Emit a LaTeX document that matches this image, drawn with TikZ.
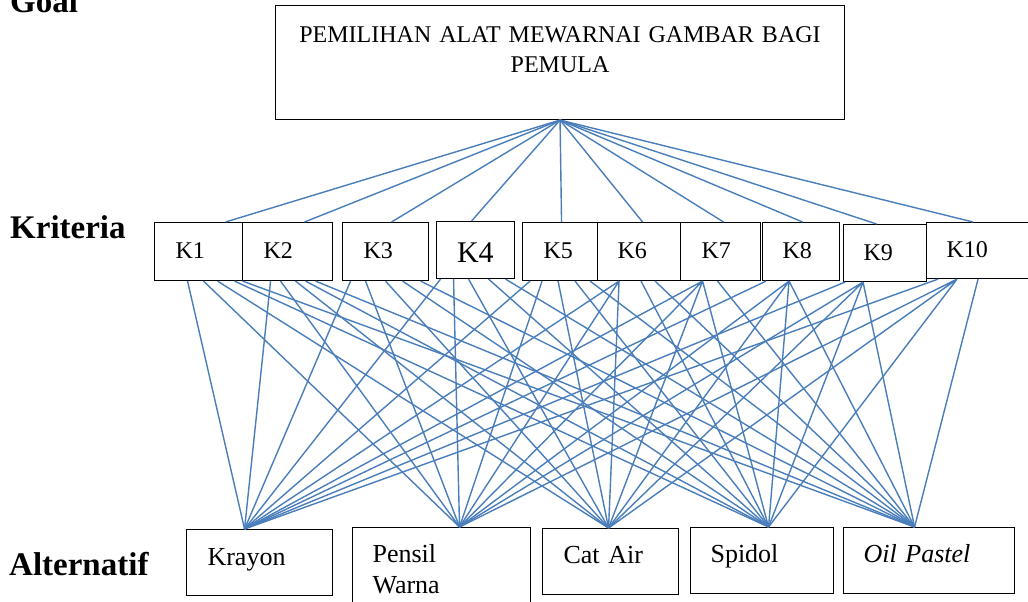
\documentclass[tikz,border=0pt]{standalone}
\usepackage{fontspec}
\setmainfont{Liberation Serif}
\usepackage{xcolor}
\usetikzlibrary{positioning}
\definecolor{biru}{HTML}{4A7EBB}

\begin{document}
\begin{tikzpicture}[x=1pt, y=-1pt,
    kotak/.style={draw=black, line width=1.1pt, anchor=north west, inner ysep=0pt, align=left, font=\fontsize{24}{30}\selectfont},
    alt/.style={kotak, font=\fontsize{26}{31}\selectfont},
    garis/.style={draw=biru, line width=1.4pt},
    judul/.style={anchor=base west, inner sep=0pt, font=\bfseries\fontsize{33}{36}\selectfont}]
    \useasboundingbox (0,0) rectangle (1028,602);

    % tingkat
    \node[judul] (lgoal) at (10,13) {Goal};
    \node[judul] (lkrit) at (10,238) {Kriteria};
    \node[judul] (lalt) at (9,575) {Alternatif};

    % goal
    \node[kotak, align=center, text width=540pt, inner xsep=14.5pt, text height=37pt, text depth=77pt] (goal) at (275,5) {PEMILIHAN ALAT MEWARNAI GAMBAR BAGI\\PEMULA};

    % kriteria
    \node[kotak, text width=46pt, inner xsep=21pt, text height=36pt, text depth=22pt] (k1) at (154,222) {K1};
    \node[kotak, text width=48pt, inner xsep=21pt, text height=36pt, text depth=22pt] (k2) at (242,222) {K2};
    \node[kotak, text width=44pt, inner xsep=21pt, text height=36pt, text depth=22pt] (k3) at (342,222) {K3};
    \node[kotak, text width=37pt, inner xsep=20.5pt, text height=41pt, text depth=16pt, font=\fontsize{30}{34}\selectfont] (k4) at (436,221) {K4};
    \node[kotak, text width=33pt, inner xsep=21pt, text height=36pt, text depth=22pt] (k5) at (522,222) {K5};
    \node[kotak, text width=43pt, inner xsep=20pt, text height=36pt, text depth=22pt] (k6) at (597,222) {K6};
    \node[kotak, text width=38pt, inner xsep=21pt, text height=36pt, text depth=22pt] (k7) at (680,222) {K7};
    \node[kotak, text width=37pt, inner xsep=20pt, text height=36pt, text depth=22pt] (k8) at (762,222) {K8};
    \node[kotak, text width=43pt, inner xsep=20pt, text height=36pt, text depth=21pt] (k9) at (843,224) {K9};
    \node[kotak, text width=65pt, inner xsep=20pt, text height=35pt, text depth=21pt] (k10) at (926,222) {K10};

    % alternatif
    \node[alt, text width=104pt, inner xsep=21pt, text height=36pt, text depth=30pt] (alt1) at (186,529) {Krayon};
    \node[alt, text width=138pt, inner xsep=20pt, text height=35pt, text depth=50pt] (alt2) at (352,527) {Pensil\\Warna};
    \node[alt, text width=94pt, inner xsep=21pt, text height=35pt, text depth=31pt] (alt3) at (542,528) {Cat Air};
    \node[alt, text width=103pt, inner xsep=20pt, text height=35pt, text depth=31pt] (alt4) at (690,527) {Spidol};
    \node[alt, text width=131pt, inner xsep=20pt, text height=35pt, text depth=31pt] (alt5) at (843,527) {\textit{Oil Pastel}};

    \coordinate (t1) at ([xshift=-15pt]alt1.north);
    \coordinate (t2) at ([xshift=18pt]alt2.north);
    \coordinate (t3) at ([xshift=-2pt]alt3.north);
    \coordinate (t4) at ([xshift=6.5pt]alt4.north);
    \coordinate (t5) at ([xshift=-14.5pt]alt5.north);

    % goal ke kriteria
    \draw[garis] (goal.south) -- ([xshift=27pt]k1.north);
    \draw[garis] (goal.south) -- ([xshift=17pt]k2.north);
    \draw[garis] (goal.south) -- ([xshift=6pt]k3.north);
    \draw[garis] (goal.south) -- ([xshift=-4pt]k4.north);
    \draw[garis] (goal.south) -- ([xshift=1.5pt]k5.north);
    \draw[garis] (goal.south) -- ([xshift=3.5pt]k6.north);
    \draw[garis] (goal.south) -- ([xshift=3pt]k7.north);
    \draw[garis] (goal.south) -- ([xshift=1.5pt]k8.north);
    \draw[garis] (goal.south) -- ([xshift=-8.5pt]k9.north);
    \draw[garis] (goal.south) -- ([xshift=-6pt]k10.north);

    % kriteria ke alternatif
    \draw[garis] ([xshift=-11pt]k1.south) -- (t1) ([xshift=5pt]k1.south) -- (t2) ([xshift=19pt]k1.south) -- (t3) ([xshift=36pt]k1.south) -- (t4) ([xshift=44pt]k1.south) -- (t5);
    \draw[garis] ([xshift=-17pt]k2.south) -- (t1) ([xshift=-7pt]k2.south) -- (t2) ([xshift=8pt]k2.south) -- (t3) ([xshift=18pt]k2.south) -- (t4) ([xshift=28pt]k2.south) -- (t5);
    \draw[garis] ([xshift=-35pt]k3.south) -- (t1) ([xshift=-20pt]k3.south) -- (t2) (k3.south) -- (t3) ([xshift=17pt]k3.south) -- (t4) ([xshift=35pt]k3.south) -- (t5);
    \draw[garis] ([xshift=-35pt]k4.south) -- (t1) ([xshift=-22pt]k4.south) -- (t2) ([xshift=-7pt]k4.south) -- (t3) ([xshift=13pt]k4.south) -- (t4) ([xshift=30pt]k4.south) -- (t5);
    \draw[garis] ([xshift=-30pt]k5.south) -- (t1) ([xshift=-18pt]k5.south) -- (t2) ([xshift=-2pt]k5.south) -- (t3) ([xshift=15pt]k5.south) -- (t4) ([xshift=30pt]k5.south) -- (t5);
    \draw[garis] ([xshift=-20pt]k6.south) -- (t1) ([xshift=-20pt]k6.south) -- (t2) ([xshift=-20pt]k6.south) -- (t3) ([xshift=2pt]k6.south) -- (t4) ([xshift=16pt]k6.south) -- (t5);
    \draw[garis] ([xshift=-18pt]k7.south) -- (t1) ([xshift=-18pt]k7.south) -- (t2) ([xshift=-18pt]k7.south) -- (t3) ([xshift=-18pt]k7.south) -- (t4) ([xshift=-3pt]k7.south) -- (t5);
    \draw[garis] ([xshift=-35pt]k8.south) -- (t1) ([xshift=-12pt]k8.south) -- (t2) ([xshift=-12pt]k8.south) -- (t3) ([xshift=-12pt]k8.south) -- (t4) ([xshift=-12pt]k8.south) -- (t5);
    \draw[garis] ([xshift=-40pt]k9.south) -- (t1) ([xshift=-22pt]k9.south) -- (t2) ([xshift=-22pt]k9.south) -- (t3) ([xshift=-22pt]k9.south) -- (t4) ([xshift=-22pt]k9.south) -- (t5);
    \draw[garis] ([xshift=-41pt]k10.south) -- (t1) ([xshift=-22pt]k10.south) -- (t2) ([xshift=-22pt]k10.south) -- (t3) ([xshift=-22pt]k10.south) -- (t4) ([xshift=-1pt]k10.south) -- (t5);
\end{tikzpicture}
\end{document}
